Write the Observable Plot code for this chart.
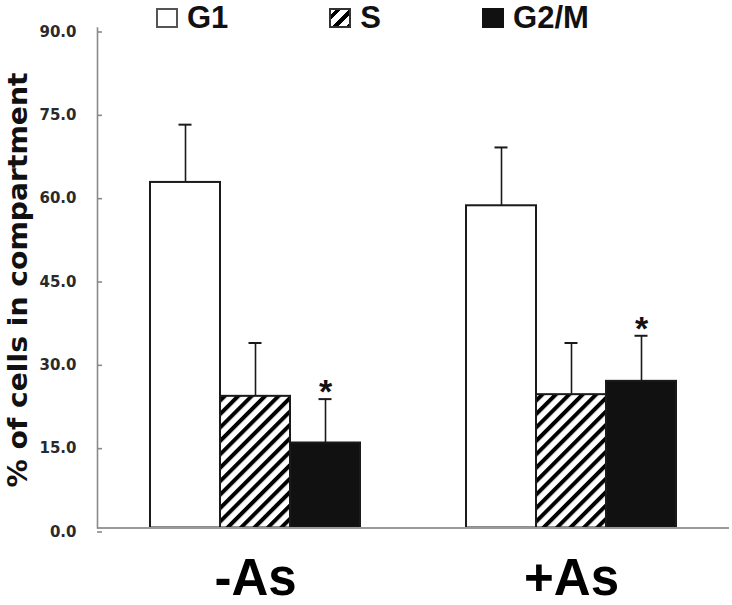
<!DOCTYPE html>
<html><head><meta charset="utf-8">
<script src="https://cdn.jsdelivr.net/npm/d3@7"></script>
<script src="https://cdn.jsdelivr.net/npm/@observablehq/plot@0.6"></script>
<style>
html,body{margin:0;padding:0;background:#fff;}
#wrap{position:relative;width:732px;height:605px;overflow:hidden;}
#legend{position:absolute;top:0;left:0;display:flex;gap:101px;padding-left:156px;font-family:"Liberation Sans",Arial,sans-serif;font-weight:bold;font-size:31px;line-height:normal;color:#111;}
.item{white-space:nowrap;}
.sw{display:inline-block;width:22px;height:20px;box-sizing:border-box;margin-right:9px;vertical-align:baseline;}
</style></head><body>
<div id="wrap"><div id="chart"></div><div id="legend"></div></div>
<script>
// ---- data ----
const groups = ["-As", "+As"];
const phases = ["G1", "S", "G2/M"];
const meanMinusAs = [62.2, 23.7, 15.3];
const errMinusAs = [10.4, 9.6, 7.9];
const meanPlusAs = [58.0, 24.0, 26.4];
const errPlusAs = [10.5, 9.3, 8.2];
const markMinusAs = ["", "", "*"];
const markPlusAs = ["", "", "*"];
const yTicks = [0, 15, 30, 45, 60, 75, 90];
const yTitle = "% of cells in compartment";
const phaseFills = ["#ffffff", "url(#hatch)", "#111111"];
const legendCss = ["background:#fff;border:2px solid #555;",
  "border:2px solid #333;background:repeating-linear-gradient(135deg,#fff 0 3px,#000 3px 7px,#fff 7px 9.5px);",
  "background:#111;"];

const rows = [];
phases.forEach((p, i) => {
  rows.push({group: groups[0], phase: p, value: meanMinusAs[i], hi: meanMinusAs[i] + errMinusAs[i], mark: markMinusAs[i]});
  rows.push({group: groups[1], phase: p, value: meanPlusAs[i], hi: meanPlusAs[i] + errPlusAs[i], mark: markPlusAs[i]});
});

const plot = Plot.plot({
  width: 732, height: 605,
  marginLeft: 97, marginRight: 3, marginTop: 27.5, marginBottom: 77.5,
  style: {background: "white", fontFamily: "DejaVu Sans", overflow: "visible"},
  fx: {domain: groups, paddingInner: 0, paddingOuter: 0, label: null},
  x: {domain: phases, paddingInner: 0, paddingOuter: 0.735, axis: null},
  y: {domain: [0, 90]},
  color: {type: "ordinal", domain: phases, range: phaseFills},
  marks: [
    Plot.barY(rows, {fx: "group", x: "phase", y: "value", fill: "phase", stroke: "#1a1a1a", strokeWidth: 2}),
    Plot.ruleY([0], {stroke: "#999", strokeWidth: 2}),
    Plot.frame({anchor: "left", facetAnchor: "left", stroke: "#8a8a8a", strokeWidth: 1.6}),
    Plot.ruleX(rows, {fx: "group", x: "phase", y1: "value", y2: "hi", stroke: "#1a1a1a", strokeWidth: 1.6}),
    Plot.tickY(rows, {fx: "group", x: "phase", y: "hi", stroke: "#1a1a1a", strokeWidth: 2, insetLeft: 28.5, insetRight: 28.5}),
    Plot.text(rows.filter(d => d.mark), {fx: "group", x: "phase", y: "hi", text: "mark", lineAnchor: "bottom", dy: 4, fontSize: 34, fontWeight: "bold", fontFamily: "Liberation Sans", fill: "#111"}),
    Plot.axisY({ticks: yTicks, tickFormat: d3.format(".1f"), tickSize: -5, tickPadding: 26, dy: 4, stroke: "#8a8a8a", strokeWidth: 1.6, fill: "#2a2a2a", fontSize: 15, fontWeight: "bold", fontFamily: "DejaVu Sans", label: null}),
    Plot.axisFx({anchor: "bottom", tickSize: 0, tickPadding: 30.5, fontSize: 51, fontWeight: "bold", fontFamily: "Liberation Sans", fill: "#000", label: null}),
    Plot.text([yTitle], {fx: () => groups[0], frameAnchor: "left", textAnchor: "middle", lineAnchor: "middle", rotate: -90, dx: -79, dy: 2, fontSize: 26, fontWeight: "bold", fontFamily: "DejaVu Sans", fill: "#111"})
  ]
});

const svg = d3.select(plot);
const defs = svg.insert("defs", ":first-child");
const pat = defs.append("pattern").attr("id", "hatch").attr("patternUnits", "userSpaceOnUse")
  .attr("width", 9.5).attr("height", 9.5).attr("patternTransform", "rotate(45)");
pat.append("rect").attr("width", 9.5).attr("height", 9.5).attr("fill", "#fff");
pat.append("rect").attr("width", 4).attr("height", 9.5).attr("fill", "#000");
svg.selectAll("text").filter(function() { return this.textContent === yTitle; })
  .attr("textLength", 415).attr("lengthAdjust", "spacingAndGlyphs");

document.getElementById("chart").appendChild(plot);

const legend = d3.select("#legend");
phases.forEach((p, i) => {
  const it = legend.append("div").attr("class", "item");
  it.append("span").attr("class", "sw").attr("style", legendCss[i]);
  it.append("span").text(p);
});
</script>
</body></html>
